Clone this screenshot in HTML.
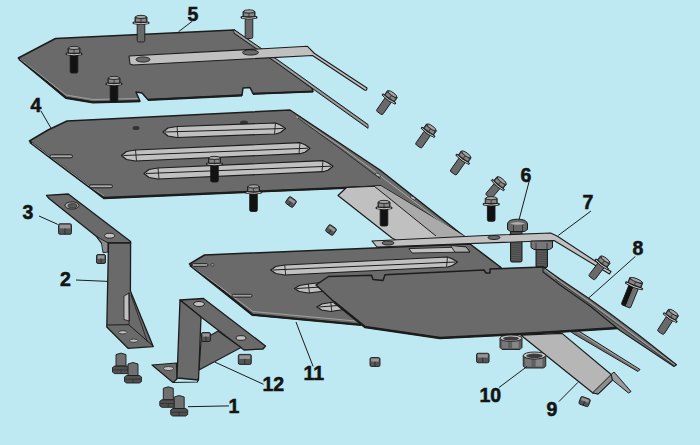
<!DOCTYPE html>
<html><head><meta charset="utf-8"><style>
html,body{margin:0;padding:0;background:rgb(190,232,242);}
svg{display:block;}
</style></head><body>
<svg width="700" height="445" viewBox="0 0 700 445">
<defs><linearGradient id="gsh" x1="0" y1="0" x2="1" y2="0"><stop offset="0" stop-color="#111"/><stop offset="0.45" stop-color="#111"/><stop offset="0.5" stop-color="#6a6a6a"/><stop offset="1" stop-color="#7a7a7a"/></linearGradient></defs>
<rect width="700" height="445" fill="rgb(190,232,242)"/>
<polygon points="18.3,58 55.5,38.5 234,30 312,88 313,91.5 253,93.8 250,87.5 243,88 242,95.3 148,99.8 142,93 136,92 140,101.2 93,102.3 66,97.8" fill="rgb(106,106,106)" stroke="rgb(28,28,28)" stroke-width="1.5" stroke-linejoin="round" />
<polyline points="19,59 66,97.8 93,102.3 140,101.2" fill="none" stroke="rgb(28,28,28)" stroke-width="2.2" stroke-linejoin="round"/>
<polyline points="148,99.8 242,95.3" fill="none" stroke="rgb(28,28,28)" stroke-width="2.2" stroke-linejoin="round"/>
<polyline points="253,93.8 313,91.5" fill="none" stroke="rgb(28,28,28)" stroke-width="2.2" stroke-linejoin="round"/>
<polyline points="20,59 66,95 93,99.5 138,98.5" fill="none" stroke="rgb(175,175,175)" stroke-width="0.8" stroke-linejoin="round"/>
<polygon points="234,29.5 280,61.5 340,104.5 368,124.5 368,128.3 340,108.3 280,65.3 234,33.3" fill="rgb(125,125,125)" stroke="rgb(28,28,28)" stroke-width="1.0" stroke-linejoin="round" />
<polyline points="234,31.4 280,63.4 340,106.4 368,126.4" fill="none" stroke="rgb(185,185,185)" stroke-width="0.8" stroke-linejoin="round"/>
<g transform="translate(141,15) rotate(0) scale(1.0)"><rect x="-3.8" y="8" width="7.6" height="19" rx="1.6" fill="rgb(105,105,105)" stroke="rgb(28,28,28)" stroke-width="0.9"/><path d="M-8,7.2 Q0,5.6 8,7.2 L8,8.6 Q0,10.6 -8,8.6 Z" fill="rgb(55,55,55)" stroke="rgb(28,28,28)" stroke-width="0.9"/><path d="M-7,8 Q0,9.6 7,8" fill="none" stroke="rgb(215,215,215)" stroke-width="0.9"/><path d="M-6,2 Q0,-0.8 6,2 L6,7 Q0,8 -6,7 Z" fill="rgb(70,70,70)" stroke="rgb(28,28,28)" stroke-width="0.9"/><rect x="-5" y="3.8" width="4.4" height="2.8" fill="rgb(135,135,135)"/><rect x="0.6" y="3.8" width="4.4" height="2.8" fill="rgb(135,135,135)"/><ellipse cx="0" cy="1.9" rx="5.3" ry="1.6" fill="rgb(165,165,165)" stroke="rgb(28,28,28)" stroke-width="0.8"/></g>
<g transform="translate(249,9.5) rotate(0) scale(1.0)"><rect x="-3.8" y="8" width="7.6" height="21" rx="1.6" fill="rgb(105,105,105)" stroke="rgb(28,28,28)" stroke-width="0.9"/><path d="M-8,7.2 Q0,5.6 8,7.2 L8,8.6 Q0,10.6 -8,8.6 Z" fill="rgb(55,55,55)" stroke="rgb(28,28,28)" stroke-width="0.9"/><path d="M-7,8 Q0,9.6 7,8" fill="none" stroke="rgb(215,215,215)" stroke-width="0.9"/><path d="M-6,2 Q0,-0.8 6,2 L6,7 Q0,8 -6,7 Z" fill="rgb(70,70,70)" stroke="rgb(28,28,28)" stroke-width="0.9"/><rect x="-5" y="3.8" width="4.4" height="2.8" fill="rgb(135,135,135)"/><rect x="0.6" y="3.8" width="4.4" height="2.8" fill="rgb(135,135,135)"/><ellipse cx="0" cy="1.9" rx="5.3" ry="1.6" fill="rgb(165,165,165)" stroke="rgb(28,28,28)" stroke-width="0.8"/></g>
<polygon points="129,56 307.5,46.3 314.5,53.5 367,88 366.5,90 365,90.3 312.5,55.5 133,65 130,64" fill="rgb(192,192,192)" stroke="rgb(28,28,28)" stroke-width="1.1" stroke-linejoin="round" />
<ellipse cx="250.5" cy="52.5" rx="8" ry="2.6" fill="rgb(106,106,106)" stroke="rgb(28,28,28)" stroke-width="0.9" transform="rotate(0 250.5 52.5)"/>
<ellipse cx="143" cy="59.5" rx="7" ry="2.6" fill="rgb(106,106,106)" stroke="rgb(28,28,28)" stroke-width="0.9" transform="rotate(0 143 59.5)"/>
<g transform="translate(74,46) rotate(0) scale(1.0)"><rect x="-3.8" y="8" width="7.6" height="19" rx="1.6" fill="#121212" stroke="rgb(28,28,28)" stroke-width="0.9"/><path d="M-8,7.2 Q0,5.6 8,7.2 L8,8.6 Q0,10.6 -8,8.6 Z" fill="rgb(55,55,55)" stroke="rgb(28,28,28)" stroke-width="0.9"/><path d="M-7,8 Q0,9.6 7,8" fill="none" stroke="rgb(215,215,215)" stroke-width="0.9"/><path d="M-6,2 Q0,-0.8 6,2 L6,7 Q0,8 -6,7 Z" fill="rgb(70,70,70)" stroke="rgb(28,28,28)" stroke-width="0.9"/><rect x="-5" y="3.8" width="4.4" height="2.8" fill="rgb(135,135,135)"/><rect x="0.6" y="3.8" width="4.4" height="2.8" fill="rgb(135,135,135)"/><ellipse cx="0" cy="1.9" rx="5.3" ry="1.6" fill="rgb(165,165,165)" stroke="rgb(28,28,28)" stroke-width="0.8"/></g>
<g transform="translate(114,76) rotate(0) scale(1.0)"><rect x="-3.8" y="8" width="7.6" height="18" rx="1.6" fill="#121212" stroke="rgb(28,28,28)" stroke-width="0.9"/><path d="M-8,7.2 Q0,5.6 8,7.2 L8,8.6 Q0,10.6 -8,8.6 Z" fill="rgb(55,55,55)" stroke="rgb(28,28,28)" stroke-width="0.9"/><path d="M-7,8 Q0,9.6 7,8" fill="none" stroke="rgb(215,215,215)" stroke-width="0.9"/><path d="M-6,2 Q0,-0.8 6,2 L6,7 Q0,8 -6,7 Z" fill="rgb(70,70,70)" stroke="rgb(28,28,28)" stroke-width="0.9"/><rect x="-5" y="3.8" width="4.4" height="2.8" fill="rgb(135,135,135)"/><rect x="0.6" y="3.8" width="4.4" height="2.8" fill="rgb(135,135,135)"/><ellipse cx="0" cy="1.9" rx="5.3" ry="1.6" fill="rgb(165,165,165)" stroke="rgb(28,28,28)" stroke-width="0.8"/></g>
<polygon points="29.4,141 48,130 67,121 290,110 335,140 380,170 437,215 465,237 381,186.3 104,198 93,189.5 53,159.5" fill="rgb(106,106,106)" stroke="rgb(28,28,28)" stroke-width="1.5" stroke-linejoin="round" />
<polyline points="30,142 53,159.5 93,189.5 104,198 381,186.3" fill="none" stroke="rgb(28,28,28)" stroke-width="2.3" stroke-linejoin="round"/>
<polyline points="32,143 52,158 92,188 104,196" fill="none" stroke="rgb(175,175,175)" stroke-width="0.8" stroke-linejoin="round"/>
<polygon points="338,195.5 346.5,187.5 381,186 464,236 466,246 408,246 392,238" fill="rgb(192,192,192)" stroke="rgb(28,28,28)" stroke-width="1.2" stroke-linejoin="round" />
<polygon points="374,186 381,186 464,236 466,246 452,246 436,236" fill="rgb(170,170,170)" stroke="rgb(28,28,28)" stroke-width="0" stroke-linejoin="round" stroke-opacity="0"/>
<line x1="374" y1="186" x2="436" y2="236" stroke="rgb(28,28,28)" stroke-width="1.0"/>
<polyline points="296,116.5 340,146 380,175.5 437,219 462,236" fill="none" stroke="rgb(175,175,175)" stroke-width="0.9" stroke-linejoin="round"/>
<polyline points="298,118 340,148.5 380,178.5" fill="none" stroke="rgb(28,28,28)" stroke-width="0.8" stroke-linejoin="round"/>
<ellipse cx="378" cy="175" rx="3" ry="1.2" fill="rgb(192,192,192)" stroke="rgb(28,28,28)" stroke-width="0.6" transform="rotate(35 378 175)"/>
<ellipse cx="413" cy="198" rx="3" ry="1.2" fill="rgb(192,192,192)" stroke="rgb(28,28,28)" stroke-width="0.6" transform="rotate(35 413 198)"/>
<rect x="50" y="154.8" width="22.5" height="3" rx="1.5" fill="rgb(170,170,170)" stroke="rgb(28,28,28)" stroke-width="1"/>
<rect x="89.5" y="184.8" width="23" height="3" rx="1.5" fill="rgb(170,170,170)" stroke="rgb(28,28,28)" stroke-width="1"/>
<ellipse cx="136" cy="128" rx="3.5" ry="2" fill="#333"/>
<ellipse cx="244" cy="122.5" rx="4" ry="2" fill="#333"/>
<polygon points="163,132 168,128.0 177,126.5 275.5,123.0 280.5,125.0 285.5,128.5 280.5,132.5 275.5,134.0 177,137.5 168,136.0" fill="rgb(192,192,192)" stroke="rgb(28,28,28)" stroke-width="1.2" stroke-linejoin="round" />
<line x1="165" y1="132" x2="283.5" y2="128.5" stroke="rgb(28,28,28)" stroke-width="1.0"/>
<line x1="177" y1="126.5" x2="178" y2="137.5" stroke="rgb(28,28,28)" stroke-width="0.9"/>
<line x1="275.5" y1="123.0" x2="274.5" y2="134.0" stroke="rgb(28,28,28)" stroke-width="0.9"/>
<polygon points="121.5,155.5 126.5,151.5 135.5,150.0 300,142.7 305,144.7 310,148.2 305,152.2 300,153.7 135.5,161.0 126.5,159.5" fill="rgb(192,192,192)" stroke="rgb(28,28,28)" stroke-width="1.2" stroke-linejoin="round" />
<line x1="123.5" y1="155.5" x2="308" y2="148.2" stroke="rgb(28,28,28)" stroke-width="1.0"/>
<line x1="135.5" y1="150.0" x2="136.5" y2="161.0" stroke="rgb(28,28,28)" stroke-width="0.9"/>
<line x1="300" y1="142.7" x2="299" y2="153.7" stroke="rgb(28,28,28)" stroke-width="0.9"/>
<polygon points="144,173.5 149,169.5 158,168.0 323,160.7 328,162.7 333,166.2 328,170.2 323,171.7 158,179.0 149,177.5" fill="rgb(192,192,192)" stroke="rgb(28,28,28)" stroke-width="1.2" stroke-linejoin="round" />
<line x1="146" y1="173.5" x2="331" y2="166.2" stroke="rgb(28,28,28)" stroke-width="1.0"/>
<line x1="158" y1="168.0" x2="159" y2="179.0" stroke="rgb(28,28,28)" stroke-width="0.9"/>
<line x1="323" y1="160.7" x2="322" y2="171.7" stroke="rgb(28,28,28)" stroke-width="0.9"/>
<g transform="translate(214.5,156) rotate(0) scale(1.0)"><rect x="-3.8" y="8" width="7.6" height="18" rx="1.6" fill="#121212" stroke="rgb(28,28,28)" stroke-width="0.9"/><path d="M-8,7.2 Q0,5.6 8,7.2 L8,8.6 Q0,10.6 -8,8.6 Z" fill="rgb(55,55,55)" stroke="rgb(28,28,28)" stroke-width="0.9"/><path d="M-7,8 Q0,9.6 7,8" fill="none" stroke="rgb(215,215,215)" stroke-width="0.9"/><path d="M-6,2 Q0,-0.8 6,2 L6,7 Q0,8 -6,7 Z" fill="rgb(70,70,70)" stroke="rgb(28,28,28)" stroke-width="0.9"/><rect x="-5" y="3.8" width="4.4" height="2.8" fill="rgb(135,135,135)"/><rect x="0.6" y="3.8" width="4.4" height="2.8" fill="rgb(135,135,135)"/><ellipse cx="0" cy="1.9" rx="5.3" ry="1.6" fill="rgb(165,165,165)" stroke="rgb(28,28,28)" stroke-width="0.8"/></g>
<g transform="translate(253.5,184.5) rotate(0) scale(1.0)"><rect x="-3.8" y="8" width="7.6" height="19" rx="1.6" fill="#121212" stroke="rgb(28,28,28)" stroke-width="0.9"/><path d="M-8,7.2 Q0,5.6 8,7.2 L8,8.6 Q0,10.6 -8,8.6 Z" fill="rgb(55,55,55)" stroke="rgb(28,28,28)" stroke-width="0.9"/><path d="M-7,8 Q0,9.6 7,8" fill="none" stroke="rgb(215,215,215)" stroke-width="0.9"/><path d="M-6,2 Q0,-0.8 6,2 L6,7 Q0,8 -6,7 Z" fill="rgb(70,70,70)" stroke="rgb(28,28,28)" stroke-width="0.9"/><rect x="-5" y="3.8" width="4.4" height="2.8" fill="rgb(135,135,135)"/><rect x="0.6" y="3.8" width="4.4" height="2.8" fill="rgb(135,135,135)"/><ellipse cx="0" cy="1.9" rx="5.3" ry="1.6" fill="rgb(165,165,165)" stroke="rgb(28,28,28)" stroke-width="0.8"/></g>
<g transform="translate(384,200) rotate(0) scale(1.0)"><rect x="-3.8" y="8" width="7.6" height="18" rx="1.6" fill="#121212" stroke="rgb(28,28,28)" stroke-width="0.9"/><path d="M-8,7.2 Q0,5.6 8,7.2 L8,8.6 Q0,10.6 -8,8.6 Z" fill="rgb(55,55,55)" stroke="rgb(28,28,28)" stroke-width="0.9"/><path d="M-7,8 Q0,9.6 7,8" fill="none" stroke="rgb(215,215,215)" stroke-width="0.9"/><path d="M-6,2 Q0,-0.8 6,2 L6,7 Q0,8 -6,7 Z" fill="rgb(70,70,70)" stroke="rgb(28,28,28)" stroke-width="0.9"/><rect x="-5" y="3.8" width="4.4" height="2.8" fill="rgb(135,135,135)"/><rect x="0.6" y="3.8" width="4.4" height="2.8" fill="rgb(135,135,135)"/><ellipse cx="0" cy="1.9" rx="5.3" ry="1.6" fill="rgb(165,165,165)" stroke="rgb(28,28,28)" stroke-width="0.8"/></g>
<g transform="translate(291,202) rotate(35)"><rect x="-4.5" y="-4.0" width="9" height="8" rx="1.5" fill="rgb(85,85,85)" stroke="rgb(28,28,28)" stroke-width="0.9"/><rect x="-3.3" y="-3.0" width="6.6" height="2.8" fill="rgb(150,150,150)" /><line x1="0" y1="-0.20000000000000018" x2="0" y2="4.0" stroke="rgb(28,28,28)" stroke-width="0.7"/></g>
<g transform="translate(331,230) rotate(35)"><rect x="-4.5" y="-4.0" width="9" height="8" rx="1.5" fill="rgb(85,85,85)" stroke="rgb(28,28,28)" stroke-width="0.9"/><rect x="-3.3" y="-3.0" width="6.6" height="2.8" fill="rgb(150,150,150)" /><line x1="0" y1="-0.20000000000000018" x2="0" y2="4.0" stroke="rgb(28,28,28)" stroke-width="0.7"/></g>
<polygon points="46.5,195.3 68.3,194 130.6,241.4 130.6,243 108,243 101.5,243 96.6,236.5 49,198.5" fill="rgb(106,106,106)" stroke="rgb(28,28,28)" stroke-width="1.3" stroke-linejoin="round" />
<polygon points="96.6,236.5 108,243 108,252 103,252.7 101.5,243" fill="rgb(140,140,140)" stroke="rgb(28,28,28)" stroke-width="0.9" stroke-linejoin="round" />
<ellipse cx="72" cy="205.5" rx="7" ry="3.6" fill="rgb(175,175,175)" stroke="rgb(28,28,28)" stroke-width="0.9" transform="rotate(0 72 205.5)"/>
<ellipse cx="72.5" cy="205.8" rx="4.5" ry="2.2" fill="rgb(90,90,90)" stroke="rgb(28,28,28)" stroke-width="0.7" transform="rotate(0 72.5 205.8)"/>
<ellipse cx="109.6" cy="235.7" rx="5" ry="2.4" fill="rgb(192,192,192)" stroke="rgb(28,28,28)" stroke-width="0.9" transform="rotate(0 109.6 235.7)"/>
<polygon points="108.5,243 130.6,243 130.4,291 153.2,346.6 128,348.3 106.8,327" fill="rgb(106,106,106)" stroke="rgb(28,28,28)" stroke-width="1.3" stroke-linejoin="round" />
<polygon points="124,296 129.5,293 129.5,321 124,319.5" fill="rgb(192,192,192)" stroke="rgb(28,28,28)" stroke-width="0.8" stroke-linejoin="round" />
<polyline points="107,325 128.7,324.7 153,346" fill="none" stroke="rgb(28,28,28)" stroke-width="1" stroke-linejoin="round"/>
<polyline points="128.7,292.6 129,324.7" fill="none" stroke="rgb(28,28,28)" stroke-width="0.8" stroke-linejoin="round"/>
<line x1="131" y1="295" x2="147.5" y2="342" stroke="rgb(28,28,28)" stroke-width="0.8"/>
<ellipse cx="122.8" cy="332.3" rx="4.2" ry="1.6" fill="rgb(192,192,192)" stroke="rgb(28,28,28)" stroke-width="0.7" transform="rotate(0 122.8 332.3)"/>
<ellipse cx="133.8" cy="340.7" rx="4.2" ry="1.6" fill="rgb(192,192,192)" stroke="rgb(28,28,28)" stroke-width="0.7" transform="rotate(0 133.8 340.7)"/>
<g transform="translate(101,259) rotate(0)"><rect x="-4.5" y="-4.5" width="9" height="9" rx="1.5" fill="rgb(85,85,85)" stroke="rgb(28,28,28)" stroke-width="0.9"/><rect x="-3.3" y="-3.5" width="6.6" height="3.15" fill="rgb(150,150,150)" /><line x1="0" y1="-0.3500000000000001" x2="0" y2="4.5" stroke="rgb(28,28,28)" stroke-width="0.7"/></g>
<g transform="translate(65,229) rotate(0)"><rect x="-6.5" y="-5.25" width="13" height="10.5" rx="1.5" fill="rgb(85,85,85)" stroke="rgb(28,28,28)" stroke-width="0.9"/><rect x="-5.3" y="-4.25" width="10.6" height="3.675" fill="rgb(150,150,150)" /><line x1="0" y1="-0.5750000000000002" x2="0" y2="5.25" stroke="rgb(28,28,28)" stroke-width="0.7"/></g>
<polygon points="180,300 203.5,298.5 265.5,346 263,349 244,350 201,317" fill="rgb(106,106,106)" stroke="rgb(28,28,28)" stroke-width="1.3" stroke-linejoin="round" />
<polygon points="152,365 176.5,363 177,379 173,382.5" fill="rgb(106,106,106)" stroke="rgb(28,28,28)" stroke-width="1.2" stroke-linejoin="round" />
<polygon points="201,341 218,331 241,347.5 199,370" fill="rgb(106,106,106)" stroke="rgb(28,28,28)" stroke-width="1.1" stroke-linejoin="round" />
<polygon points="180,300 201,317 198.5,380 177,378" fill="rgb(106,106,106)" stroke="rgb(28,28,28)" stroke-width="1.3" stroke-linejoin="round" />
<polyline points="173,382.5 197.5,382 198.5,378" fill="none" stroke="rgb(28,28,28)" stroke-width="1.1" stroke-linejoin="round"/>
<ellipse cx="168.5" cy="368.5" rx="5" ry="2" fill="rgb(192,192,192)" stroke="rgb(28,28,28)" stroke-width="0.7" transform="rotate(0 168.5 368.5)"/>
<ellipse cx="199" cy="304" rx="5.5" ry="2.5" fill="rgb(192,192,192)" stroke="rgb(28,28,28)" stroke-width="0.9" transform="rotate(0 199 304)"/>
<ellipse cx="241" cy="338" rx="5" ry="2.3" fill="rgb(192,192,192)" stroke="rgb(28,28,28)" stroke-width="0.9" transform="rotate(0 241 338)"/>
<g transform="translate(206,337) rotate(0)"><rect x="-4.5" y="-4.5" width="9" height="9" rx="1.5" fill="rgb(85,85,85)" stroke="rgb(28,28,28)" stroke-width="0.9"/><rect x="-3.3" y="-3.5" width="6.6" height="3.15" fill="rgb(150,150,150)" /><line x1="0" y1="-0.3500000000000001" x2="0" y2="4.5" stroke="rgb(28,28,28)" stroke-width="0.7"/></g>
<g transform="translate(244.8,359.4) rotate(0)"><rect x="-6.5" y="-5.0" width="13" height="10" rx="1.5" fill="rgb(85,85,85)" stroke="rgb(28,28,28)" stroke-width="0.9"/><rect x="-5.3" y="-4.0" width="10.6" height="3.5" fill="rgb(150,150,150)" /><line x1="0" y1="-0.5" x2="0" y2="5.0" stroke="rgb(28,28,28)" stroke-width="0.7"/></g>
<g transform="translate(121,352.6)"><path d="M-5.0,2 Q0,-1 5.0,2 L5.0,13.5 L-5.0,13.5 Z" fill="rgb(112,112,112)" stroke="rgb(28,28,28)" stroke-width="0.9"/><path d="M-8.5,15.0 L-6.5,13.5 L6.5,13.5 L8.5,15.0 L8.5,19.5 L6.5,21.0 L-6.5,21.0 L-8.5,19.5 Z" fill="rgb(80,80,80)" stroke="rgb(28,28,28)" stroke-width="0.9"/><line x1="-7.5" y1="17.25" x2="7.5" y2="17.25" stroke="rgb(40,40,40)" stroke-width="0.7"/><line x1="0" y1="17.25" x2="0" y2="21.0" stroke="rgb(40,40,40)" stroke-width="0.7"/></g>
<g transform="translate(133,362)"><path d="M-5.0,2 Q0,-1 5.0,2 L5.0,13.5 L-5.0,13.5 Z" fill="rgb(112,112,112)" stroke="rgb(28,28,28)" stroke-width="0.9"/><path d="M-8.5,15.0 L-6.5,13.5 L6.5,13.5 L8.5,15.0 L8.5,19.5 L6.5,21.0 L-6.5,21.0 L-8.5,19.5 Z" fill="rgb(80,80,80)" stroke="rgb(28,28,28)" stroke-width="0.9"/><line x1="-7.5" y1="17.25" x2="7.5" y2="17.25" stroke="rgb(40,40,40)" stroke-width="0.7"/><line x1="0" y1="17.25" x2="0" y2="21.0" stroke="rgb(40,40,40)" stroke-width="0.7"/></g>
<g transform="translate(168.3,386.3)"><path d="M-5.0,2 Q0,-1 5.0,2 L5.0,13.5 L-5.0,13.5 Z" fill="rgb(112,112,112)" stroke="rgb(28,28,28)" stroke-width="0.9"/><path d="M-8.5,15.0 L-6.5,13.5 L6.5,13.5 L8.5,15.0 L8.5,19.5 L6.5,21.0 L-6.5,21.0 L-8.5,19.5 Z" fill="rgb(80,80,80)" stroke="rgb(28,28,28)" stroke-width="0.9"/><line x1="-7.5" y1="17.25" x2="7.5" y2="17.25" stroke="rgb(40,40,40)" stroke-width="0.7"/><line x1="0" y1="17.25" x2="0" y2="21.0" stroke="rgb(40,40,40)" stroke-width="0.7"/></g>
<g transform="translate(179.2,395)"><path d="M-5.0,2 Q0,-1 5.0,2 L5.0,13.5 L-5.0,13.5 Z" fill="rgb(112,112,112)" stroke="rgb(28,28,28)" stroke-width="0.9"/><path d="M-8.5,15.0 L-6.5,13.5 L6.5,13.5 L8.5,15.0 L8.5,19.5 L6.5,21.0 L-6.5,21.0 L-8.5,19.5 Z" fill="rgb(80,80,80)" stroke="rgb(28,28,28)" stroke-width="0.9"/><line x1="-7.5" y1="17.25" x2="7.5" y2="17.25" stroke="rgb(40,40,40)" stroke-width="0.7"/><line x1="0" y1="17.25" x2="0" y2="21.0" stroke="rgb(40,40,40)" stroke-width="0.7"/></g>
<polygon points="189.5,264 204.5,255 470,244 501,267.5 400,327 361,324.8 252.5,314.8" fill="rgb(106,106,106)" stroke="rgb(28,28,28)" stroke-width="1.5" stroke-linejoin="round" />
<polyline points="190,265 252.5,314.8 361,324.8" fill="none" stroke="rgb(28,28,28)" stroke-width="2.3" stroke-linejoin="round"/>
<polyline points="192,266 253,311.5 361,321.5" fill="none" stroke="rgb(175,175,175)" stroke-width="0.8" stroke-linejoin="round"/>
<rect x="192" y="263.6" width="16" height="2.8" rx="1.4" fill="rgb(160,160,160)" stroke="rgb(28,28,28)" stroke-width="0.9"/>
<rect x="232" y="294.3" width="20" height="2.8" rx="1.4" fill="rgb(160,160,160)" stroke="rgb(28,28,28)" stroke-width="0.9"/>
<ellipse cx="212.5" cy="264.8" rx="1.6" ry="1.4" fill="rgb(150,150,150)" stroke="rgb(28,28,28)" stroke-width="0.6"/>
<polygon points="270.7,270 275.7,266.5 284.7,265.0 447.5,257.0 452.5,259.0 457.5,262 452.5,265.5 447.5,267.0 284.7,275.0 275.7,273.5" fill="rgb(192,192,192)" stroke="rgb(28,28,28)" stroke-width="1.2" stroke-linejoin="round" />
<line x1="272.7" y1="270" x2="455.5" y2="262" stroke="rgb(28,28,28)" stroke-width="1.0"/>
<line x1="284.7" y1="265.0" x2="285.7" y2="275.0" stroke="rgb(28,28,28)" stroke-width="0.9"/>
<line x1="447.5" y1="257.0" x2="446.5" y2="267.0" stroke="rgb(28,28,28)" stroke-width="0.9"/>
<polygon points="294.4,288.5 299.4,285.5 308.4,284.0 330,281.5 335,283.5 340,286 335,289.0 330,290.5 308.4,293.0 299.4,291.5" fill="rgb(192,192,192)" stroke="rgb(28,28,28)" stroke-width="1.2" stroke-linejoin="round" />
<line x1="296.4" y1="288.5" x2="338" y2="286" stroke="rgb(28,28,28)" stroke-width="1.0"/>
<line x1="308.4" y1="284.0" x2="309.4" y2="293.0" stroke="rgb(28,28,28)" stroke-width="0.9"/>
<line x1="330" y1="281.5" x2="329" y2="290.5" stroke="rgb(28,28,28)" stroke-width="0.9"/>
<polygon points="316.8,307 321.8,304.0 330.8,302.5 350,299.5 355,301.5 360,304 355,307.0 350,308.5 330.8,311.5 321.8,310.0" fill="rgb(192,192,192)" stroke="rgb(28,28,28)" stroke-width="1.2" stroke-linejoin="round" />
<line x1="318.8" y1="307" x2="358" y2="304" stroke="rgb(28,28,28)" stroke-width="1.0"/>
<line x1="330.8" y1="302.5" x2="331.8" y2="311.5" stroke="rgb(28,28,28)" stroke-width="0.9"/>
<line x1="350" y1="299.5" x2="349" y2="308.5" stroke="rgb(28,28,28)" stroke-width="0.9"/>
<polygon points="409,248.6 466,246.9 470,252 412,253" fill="rgb(192,192,192)" stroke="rgb(28,28,28)" stroke-width="0.9" stroke-linejoin="round" />
<polygon points="450.5,245.5 466,246.9 470,252 455,252.2" fill="rgb(170,170,170)" stroke="rgb(28,28,28)" stroke-width="0.9" stroke-linejoin="round" />
<rect x="510.5" y="229" width="11.5" height="33" rx="1.5" fill="rgb(72,72,72)" stroke="rgb(28,28,28)" stroke-width="1"/><line x1="511.5" y1="231" x2="521.0" y2="231.6" stroke="rgb(110,110,110)" stroke-width="0.6"/><line x1="511.5" y1="233.2" x2="521.0" y2="233.79999999999998" stroke="rgb(110,110,110)" stroke-width="0.6"/><line x1="511.5" y1="235.39999999999998" x2="521.0" y2="235.99999999999997" stroke="rgb(110,110,110)" stroke-width="0.6"/><line x1="511.5" y1="237.59999999999997" x2="521.0" y2="238.19999999999996" stroke="rgb(110,110,110)" stroke-width="0.6"/><line x1="511.5" y1="239.79999999999995" x2="521.0" y2="240.39999999999995" stroke="rgb(110,110,110)" stroke-width="0.6"/><line x1="511.5" y1="241.99999999999994" x2="521.0" y2="242.59999999999994" stroke="rgb(110,110,110)" stroke-width="0.6"/><line x1="511.5" y1="244.19999999999993" x2="521.0" y2="244.79999999999993" stroke="rgb(110,110,110)" stroke-width="0.6"/><line x1="511.5" y1="246.39999999999992" x2="521.0" y2="246.99999999999991" stroke="rgb(110,110,110)" stroke-width="0.6"/><line x1="511.5" y1="248.5999999999999" x2="521.0" y2="249.1999999999999" stroke="rgb(110,110,110)" stroke-width="0.6"/><line x1="511.5" y1="250.7999999999999" x2="521.0" y2="251.3999999999999" stroke="rgb(110,110,110)" stroke-width="0.6"/><line x1="511.5" y1="252.9999999999999" x2="521.0" y2="253.59999999999988" stroke="rgb(110,110,110)" stroke-width="0.6"/><line x1="511.5" y1="255.19999999999987" x2="521.0" y2="255.79999999999987" stroke="rgb(110,110,110)" stroke-width="0.6"/><line x1="511.5" y1="257.39999999999986" x2="521.0" y2="257.9999999999999" stroke="rgb(110,110,110)" stroke-width="0.6"/><line x1="511.5" y1="259.59999999999985" x2="521.0" y2="260.1999999999999" stroke="rgb(110,110,110)" stroke-width="0.6"/>
<path d="M507.5,224 Q508,219.2 517.5,219.2 Q527,219.2 527.5,224 L527.5,229.5 L524.5,231.5 L510.5,231.5 L507.5,229.5 Z" fill="rgb(105,105,105)" stroke="rgb(28,28,28)" stroke-width="1"/>
<path d="M510,223.5 Q517.5,220.5 525,223.5 Q517.5,226 510,223.5 Z" fill="rgb(175,175,175)"/>
<path d="M513.5,225 L513.5,231 M522.5,225 L522.5,231" stroke="rgb(40,40,40)" stroke-width="0.8"/>
<polygon points="372,241 480,235.7 550.7,233 557.4,236.2 611,271.5 609.5,274 554,240.5 377,247" fill="rgb(192,192,192)" stroke="rgb(28,28,28)" stroke-width="1.1" stroke-linejoin="round" />
<ellipse cx="388" cy="243" rx="6" ry="2" fill="rgb(106,106,106)" stroke="rgb(28,28,28)" stroke-width="0.9" transform="rotate(0 388 243)"/>
<ellipse cx="494" cy="237.5" rx="6" ry="2" fill="rgb(106,106,106)" stroke="rgb(28,28,28)" stroke-width="0.9" transform="rotate(0 494 237.5)"/>
<rect x="536" y="247" width="11.5" height="20.5" rx="1.5" fill="rgb(72,72,72)" stroke="rgb(28,28,28)" stroke-width="1"/><line x1="537" y1="249" x2="546.5" y2="249.6" stroke="rgb(110,110,110)" stroke-width="0.6"/><line x1="537" y1="251.2" x2="546.5" y2="251.79999999999998" stroke="rgb(110,110,110)" stroke-width="0.6"/><line x1="537" y1="253.39999999999998" x2="546.5" y2="253.99999999999997" stroke="rgb(110,110,110)" stroke-width="0.6"/><line x1="537" y1="255.59999999999997" x2="546.5" y2="256.2" stroke="rgb(110,110,110)" stroke-width="0.6"/><line x1="537" y1="257.79999999999995" x2="546.5" y2="258.4" stroke="rgb(110,110,110)" stroke-width="0.6"/><line x1="537" y1="259.99999999999994" x2="546.5" y2="260.59999999999997" stroke="rgb(110,110,110)" stroke-width="0.6"/><line x1="537" y1="262.19999999999993" x2="546.5" y2="262.79999999999995" stroke="rgb(110,110,110)" stroke-width="0.6"/><line x1="537" y1="264.3999999999999" x2="546.5" y2="264.99999999999994" stroke="rgb(110,110,110)" stroke-width="0.6"/>
<path d="M531,241 L552.5,241 L552.5,247.5 L549.5,249.5 L534,249.5 L531,247.5 Z" fill="rgb(120,120,120)" stroke="rgb(28,28,28)" stroke-width="1"/>
<path d="M536,243 L536,249 M547,243 L547,249" stroke="rgb(40,40,40)" stroke-width="0.8"/>
<polygon points="566,323 640,369.5 638,371.5 574,334 566,328" fill="rgb(112,112,112)" stroke="rgb(28,28,28)" stroke-width="1.0" stroke-linejoin="round" />
<polyline points="570,327 639,370" fill="none" stroke="rgb(185,185,185)" stroke-width="0.8" stroke-linejoin="round"/>
<polygon points="328.5,276.5 371.5,275.2 373,279.5 383,280.5 385,274.8 484,270 486,273 490,273 490,269 543,267 618,328 530,333.5 440,338 365,327 334,301.7 316,285" fill="rgb(106,106,106)" stroke="rgb(28,28,28)" stroke-width="1.5" stroke-linejoin="round" />
<polyline points="334,302 365,327 440,338 530,333.5 618,328" fill="none" stroke="rgb(28,28,28)" stroke-width="2.3" stroke-linejoin="round"/>
<polygon points="543,267 560,279 589,298.5 610,313.5 640,336 676.5,364.7 674,366.5 620,330.5 590,306 560,285 543,272" fill="rgb(112,112,112)" stroke="rgb(28,28,28)" stroke-width="1.1" stroke-linejoin="round" />
<polyline points="545,269.5 560,281.5 589,301.5 610,317 640,339.5 675,365.2" fill="none" stroke="rgb(185,185,185)" stroke-width="0.8" stroke-linejoin="round"/>
<polyline points="555,279 589,303.5 612,320.5 640,341 674,365.5" fill="none" stroke="rgb(40,40,40)" stroke-width="0.7" stroke-linejoin="round"/>
<polygon points="521,335.2 562,333.4 611.2,374.5 612.5,380 598,394 592.6,392.8" fill="rgb(182,182,182)" stroke="rgb(28,28,28)" stroke-width="1.2" stroke-linejoin="round" />
<polygon points="592.6,392.8 611.2,374.5 612.5,380 598,394" fill="rgb(140,140,140)" stroke="rgb(28,28,28)" stroke-width="1" stroke-linejoin="round" />
<polygon points="611.2,374.5 614,372 631,391.5 628.5,393 612.5,380" fill="rgb(155,155,155)" stroke="rgb(28,28,28)" stroke-width="1" stroke-linejoin="round" />
<g transform="translate(511,335)"><path d="M-11.0,3.19 L-11.0,12.5 L-9.0,14.5 L9.0,14.5 L11.0,12.5 L11.0,3.19 Z" fill="rgb(95,95,95)" stroke="rgb(28,28,28)" stroke-width="0.9"/><rect x="-9.0" y="6.38" width="6.16" height="6.620000000000001" fill="rgb(120,120,120)"/><rect x="1.1" y="6.38" width="6.6" height="6.620000000000001" fill="rgb(135,135,135)"/><ellipse cx="0" cy="3.19" rx="11.0" ry="3.19" fill="rgb(200,200,200)" stroke="rgb(28,28,28)" stroke-width="0.9"/><ellipse cx="0" cy="3.5090000000000003" rx="8.0" ry="2.0735" fill="rgb(60,60,60)"/></g>
<g transform="translate(534.5,352)"><path d="M-11.25,3.52 L-11.25,14 L-9.25,16 L9.25,16 L11.25,14 L11.25,3.52 Z" fill="rgb(95,95,95)" stroke="rgb(28,28,28)" stroke-width="0.9"/><rect x="-9.25" y="7.04" width="6.300000000000001" height="7.460000000000001" fill="rgb(120,120,120)"/><rect x="1.125" y="7.04" width="6.75" height="7.460000000000001" fill="rgb(135,135,135)"/><ellipse cx="0" cy="3.52" rx="11.25" ry="3.52" fill="rgb(200,200,200)" stroke="rgb(28,28,28)" stroke-width="0.9"/><ellipse cx="0" cy="3.8720000000000003" rx="8.25" ry="2.2880000000000003" fill="rgb(60,60,60)"/></g>
<g transform="translate(482.8,358) rotate(0)"><rect x="-6.25" y="-4.75" width="12.5" height="9.5" rx="1.5" fill="rgb(85,85,85)" stroke="rgb(28,28,28)" stroke-width="0.9"/><rect x="-5.05" y="-3.75" width="10.1" height="3.3249999999999997" fill="rgb(150,150,150)" /><line x1="0" y1="-0.42500000000000027" x2="0" y2="4.75" stroke="rgb(28,28,28)" stroke-width="0.7"/></g>
<g transform="translate(584.6,401.6) rotate(20)"><rect x="-5.0" y="-4.0" width="10" height="8" rx="1.5" fill="rgb(85,85,85)" stroke="rgb(28,28,28)" stroke-width="0.9"/><rect x="-3.8" y="-3.0" width="7.6" height="2.8" fill="rgb(150,150,150)" /><line x1="0" y1="-0.20000000000000018" x2="0" y2="4.0" stroke="rgb(28,28,28)" stroke-width="0.7"/></g>
<g transform="translate(375,362) rotate(0)"><rect x="-5.0" y="-4.5" width="10" height="9" rx="1.5" fill="rgb(85,85,85)" stroke="rgb(28,28,28)" stroke-width="0.9"/><rect x="-3.8" y="-3.5" width="7.6" height="3.15" fill="rgb(150,150,150)" /><line x1="0" y1="-0.3500000000000001" x2="0" y2="4.5" stroke="rgb(28,28,28)" stroke-width="0.7"/></g>
<g transform="translate(393.5,92.5) rotate(35) scale(1.0)"><rect x="-3.8" y="8" width="7.6" height="17" rx="1.6" fill="rgb(105,105,105)" stroke="rgb(28,28,28)" stroke-width="0.9"/><path d="M-8,7.2 Q0,5.6 8,7.2 L8,8.6 Q0,10.6 -8,8.6 Z" fill="rgb(55,55,55)" stroke="rgb(28,28,28)" stroke-width="0.9"/><path d="M-7,8 Q0,9.6 7,8" fill="none" stroke="rgb(215,215,215)" stroke-width="0.9"/><path d="M-6,2 Q0,-0.8 6,2 L6,7 Q0,8 -6,7 Z" fill="rgb(70,70,70)" stroke="rgb(28,28,28)" stroke-width="0.9"/><rect x="-5" y="3.8" width="4.4" height="2.8" fill="rgb(135,135,135)"/><rect x="0.6" y="3.8" width="4.4" height="2.8" fill="rgb(135,135,135)"/><ellipse cx="0" cy="1.9" rx="5.3" ry="1.6" fill="rgb(165,165,165)" stroke="rgb(28,28,28)" stroke-width="0.8"/></g>
<g transform="translate(432.6,125.8) rotate(35) scale(1.0)"><rect x="-3.8" y="8" width="7.6" height="17" rx="1.6" fill="rgb(105,105,105)" stroke="rgb(28,28,28)" stroke-width="0.9"/><path d="M-8,7.2 Q0,5.6 8,7.2 L8,8.6 Q0,10.6 -8,8.6 Z" fill="rgb(55,55,55)" stroke="rgb(28,28,28)" stroke-width="0.9"/><path d="M-7,8 Q0,9.6 7,8" fill="none" stroke="rgb(215,215,215)" stroke-width="0.9"/><path d="M-6,2 Q0,-0.8 6,2 L6,7 Q0,8 -6,7 Z" fill="rgb(70,70,70)" stroke="rgb(28,28,28)" stroke-width="0.9"/><rect x="-5" y="3.8" width="4.4" height="2.8" fill="rgb(135,135,135)"/><rect x="0.6" y="3.8" width="4.4" height="2.8" fill="rgb(135,135,135)"/><ellipse cx="0" cy="1.9" rx="5.3" ry="1.6" fill="rgb(165,165,165)" stroke="rgb(28,28,28)" stroke-width="0.8"/></g>
<g transform="translate(467.3,152.8) rotate(35) scale(1.0)"><rect x="-3.8" y="8" width="7.6" height="17" rx="1.6" fill="rgb(105,105,105)" stroke="rgb(28,28,28)" stroke-width="0.9"/><path d="M-8,7.2 Q0,5.6 8,7.2 L8,8.6 Q0,10.6 -8,8.6 Z" fill="rgb(55,55,55)" stroke="rgb(28,28,28)" stroke-width="0.9"/><path d="M-7,8 Q0,9.6 7,8" fill="none" stroke="rgb(215,215,215)" stroke-width="0.9"/><path d="M-6,2 Q0,-0.8 6,2 L6,7 Q0,8 -6,7 Z" fill="rgb(70,70,70)" stroke="rgb(28,28,28)" stroke-width="0.9"/><rect x="-5" y="3.8" width="4.4" height="2.8" fill="rgb(135,135,135)"/><rect x="0.6" y="3.8" width="4.4" height="2.8" fill="rgb(135,135,135)"/><ellipse cx="0" cy="1.9" rx="5.3" ry="1.6" fill="rgb(165,165,165)" stroke="rgb(28,28,28)" stroke-width="0.8"/></g>
<g transform="translate(503,179) rotate(40) scale(1.0)"><rect x="-3.8" y="8" width="7.6" height="15" rx="1.6" fill="rgb(105,105,105)" stroke="rgb(28,28,28)" stroke-width="0.9"/><path d="M-8,7.2 Q0,5.6 8,7.2 L8,8.6 Q0,10.6 -8,8.6 Z" fill="rgb(55,55,55)" stroke="rgb(28,28,28)" stroke-width="0.9"/><path d="M-7,8 Q0,9.6 7,8" fill="none" stroke="rgb(215,215,215)" stroke-width="0.9"/><path d="M-6,2 Q0,-0.8 6,2 L6,7 Q0,8 -6,7 Z" fill="rgb(70,70,70)" stroke="rgb(28,28,28)" stroke-width="0.9"/><rect x="-5" y="3.8" width="4.4" height="2.8" fill="rgb(135,135,135)"/><rect x="0.6" y="3.8" width="4.4" height="2.8" fill="rgb(135,135,135)"/><ellipse cx="0" cy="1.9" rx="5.3" ry="1.6" fill="rgb(165,165,165)" stroke="rgb(28,28,28)" stroke-width="0.8"/></g>
<g transform="translate(491.2,196.3) rotate(0) scale(1.0)"><rect x="-3.8" y="8" width="7.6" height="17" rx="1.6" fill="#121212" stroke="rgb(28,28,28)" stroke-width="0.9"/><path d="M-8,7.2 Q0,5.6 8,7.2 L8,8.6 Q0,10.6 -8,8.6 Z" fill="rgb(55,55,55)" stroke="rgb(28,28,28)" stroke-width="0.9"/><path d="M-7,8 Q0,9.6 7,8" fill="none" stroke="rgb(215,215,215)" stroke-width="0.9"/><path d="M-6,2 Q0,-0.8 6,2 L6,7 Q0,8 -6,7 Z" fill="rgb(70,70,70)" stroke="rgb(28,28,28)" stroke-width="0.9"/><rect x="-5" y="3.8" width="4.4" height="2.8" fill="rgb(135,135,135)"/><rect x="0.6" y="3.8" width="4.4" height="2.8" fill="rgb(135,135,135)"/><ellipse cx="0" cy="1.9" rx="5.3" ry="1.6" fill="rgb(165,165,165)" stroke="rgb(28,28,28)" stroke-width="0.8"/></g>
<g transform="translate(606.5,258) rotate(37) scale(1.0)"><rect x="-3.8" y="8" width="7.6" height="17" rx="1.6" fill="rgb(105,105,105)" stroke="rgb(28,28,28)" stroke-width="0.9"/><path d="M-8,7.2 Q0,5.6 8,7.2 L8,8.6 Q0,10.6 -8,8.6 Z" fill="rgb(55,55,55)" stroke="rgb(28,28,28)" stroke-width="0.9"/><path d="M-7,8 Q0,9.6 7,8" fill="none" stroke="rgb(215,215,215)" stroke-width="0.9"/><path d="M-6,2 Q0,-0.8 6,2 L6,7 Q0,8 -6,7 Z" fill="rgb(70,70,70)" stroke="rgb(28,28,28)" stroke-width="0.9"/><rect x="-5" y="3.8" width="4.4" height="2.8" fill="rgb(135,135,135)"/><rect x="0.6" y="3.8" width="4.4" height="2.8" fill="rgb(135,135,135)"/><ellipse cx="0" cy="1.9" rx="5.3" ry="1.6" fill="rgb(165,165,165)" stroke="rgb(28,28,28)" stroke-width="0.8"/></g>
<g transform="translate(637,278.5) rotate(22) scale(1.0)"><rect x="-5" y="8" width="10" height="22" rx="1.6" fill="url(#gsh)" stroke="rgb(28,28,28)" stroke-width="0.9"/><path d="M-9,7.2 Q0,5.6 9,7.2 L9,8.6 Q0,10.6 -9,8.6 Z" fill="rgb(55,55,55)" stroke="rgb(28,28,28)" stroke-width="0.9"/><path d="M-8,8 Q0,9.6 8,8" fill="none" stroke="rgb(215,215,215)" stroke-width="0.9"/><path d="M-7,2 Q0,-0.8 7,2 L7,7 Q0,8 -7,7 Z" fill="rgb(70,70,70)" stroke="rgb(28,28,28)" stroke-width="0.9"/><rect x="-6" y="3.8" width="5.4" height="2.8" fill="rgb(135,135,135)"/><rect x="0.6" y="3.8" width="5.4" height="2.8" fill="rgb(135,135,135)"/><ellipse cx="0" cy="1.9" rx="6.3" ry="1.6" fill="rgb(165,165,165)" stroke="rgb(28,28,28)" stroke-width="0.8"/></g>
<g transform="translate(674.5,311) rotate(33) scale(1.0)"><rect x="-3.8" y="8" width="7.6" height="18" rx="1.6" fill="rgb(105,105,105)" stroke="rgb(28,28,28)" stroke-width="0.9"/><path d="M-8,7.2 Q0,5.6 8,7.2 L8,8.6 Q0,10.6 -8,8.6 Z" fill="rgb(55,55,55)" stroke="rgb(28,28,28)" stroke-width="0.9"/><path d="M-7,8 Q0,9.6 7,8" fill="none" stroke="rgb(215,215,215)" stroke-width="0.9"/><path d="M-6,2 Q0,-0.8 6,2 L6,7 Q0,8 -6,7 Z" fill="rgb(70,70,70)" stroke="rgb(28,28,28)" stroke-width="0.9"/><rect x="-5" y="3.8" width="4.4" height="2.8" fill="rgb(135,135,135)"/><rect x="0.6" y="3.8" width="4.4" height="2.8" fill="rgb(135,135,135)"/><ellipse cx="0" cy="1.9" rx="5.3" ry="1.6" fill="rgb(165,165,165)" stroke="rgb(28,28,28)" stroke-width="0.8"/></g>
<line x1="192" y1="21.4" x2="178.6" y2="31.7" stroke="rgb(28,28,28)" stroke-width="1"/>
<text x="187.5" y="21" font-family="Liberation Sans, sans-serif" font-weight="bold" font-size="19.5" fill="#141414" stroke="#141414" stroke-width="0.55">5</text>
<line x1="40.8" y1="110.7" x2="50.9" y2="128" stroke="rgb(28,28,28)" stroke-width="1"/>
<text x="30.5" y="111.5" font-family="Liberation Sans, sans-serif" font-weight="bold" font-size="19.5" fill="#141414" stroke="#141414" stroke-width="0.55">4</text>
<line x1="39" y1="216" x2="57.8" y2="224.4" stroke="rgb(28,28,28)" stroke-width="1"/>
<text x="22.5" y="218.5" font-family="Liberation Sans, sans-serif" font-weight="bold" font-size="19.5" fill="#141414" stroke="#141414" stroke-width="0.55">3</text>
<line x1="76" y1="280" x2="108" y2="281.4" stroke="rgb(28,28,28)" stroke-width="1"/>
<text x="60" y="286" font-family="Liberation Sans, sans-serif" font-weight="bold" font-size="19.5" fill="#141414" stroke="#141414" stroke-width="0.55">2</text>
<line x1="529.3" y1="180.8" x2="519.2" y2="219.2" stroke="rgb(28,28,28)" stroke-width="1"/>
<text x="520.5" y="182" font-family="Liberation Sans, sans-serif" font-weight="bold" font-size="19.5" fill="#141414" stroke="#141414" stroke-width="0.55">6</text>
<line x1="591" y1="211" x2="558.3" y2="235.4" stroke="rgb(28,28,28)" stroke-width="1"/>
<text x="582.5" y="208.5" font-family="Liberation Sans, sans-serif" font-weight="bold" font-size="19.5" fill="#141414" stroke="#141414" stroke-width="0.55">7</text>
<line x1="635.4" y1="256.4" x2="588.7" y2="298" stroke="rgb(28,28,28)" stroke-width="1"/>
<text x="632.5" y="254.5" font-family="Liberation Sans, sans-serif" font-weight="bold" font-size="19.5" fill="#141414" stroke="#141414" stroke-width="0.55">8</text>
<line x1="313.1" y1="366.4" x2="299" y2="330" stroke="rgb(28,28,28)" stroke-width="1"/>
<line x1="299" y1="330" x2="296" y2="322" stroke="rgb(28,28,28)" stroke-width="1"/>
<text x="303.5" y="379.5" font-family="Liberation Sans, sans-serif" font-weight="bold" font-size="19.5" fill="#141414" stroke="#141414" stroke-width="0.55">11</text>
<line x1="263.5" y1="384.3" x2="214.7" y2="362" stroke="rgb(28,28,28)" stroke-width="1"/>
<text x="262.5" y="390.5" font-family="Liberation Sans, sans-serif" font-weight="bold" font-size="19.5" fill="#141414" stroke="#141414" stroke-width="0.55">12</text>
<line x1="229" y1="405.9" x2="188" y2="406.7" stroke="rgb(28,28,28)" stroke-width="1"/>
<text x="228.5" y="413" font-family="Liberation Sans, sans-serif" font-weight="bold" font-size="19.5" fill="#141414" stroke="#141414" stroke-width="0.55">1</text>
<line x1="499" y1="387.5" x2="527" y2="366.5" stroke="rgb(28,28,28)" stroke-width="1"/>
<text x="479.5" y="401.5" font-family="Liberation Sans, sans-serif" font-weight="bold" font-size="19.5" fill="#141414" stroke="#141414" stroke-width="0.55">10</text>
<line x1="558.9" y1="401.6" x2="578" y2="382.3" stroke="rgb(28,28,28)" stroke-width="1"/>
<text x="546.5" y="416" font-family="Liberation Sans, sans-serif" font-weight="bold" font-size="19.5" fill="#141414" stroke="#141414" stroke-width="0.55">9</text>
</svg>
</body></html>
